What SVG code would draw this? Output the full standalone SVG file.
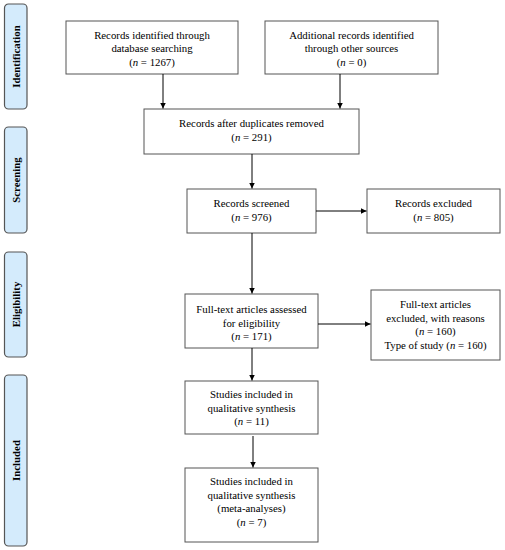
<svg xmlns="http://www.w3.org/2000/svg" width="505" height="550" viewBox="0 0 505 550">
<style>
.box{fill:#fff;stroke:#555;stroke-width:1}
.side{fill:#d4ebfc;stroke:#555;stroke-width:1.2}
.t{font-family:"Liberation Serif","DejaVu Serif",serif;font-size:10.8px;fill:#000;text-anchor:middle}
.s{font-family:"Liberation Serif","DejaVu Serif",serif;font-size:10.8px;font-weight:bold;fill:#000;text-anchor:middle}
.c{stroke:#000;stroke-width:1;fill:none;marker-end:url(#ah)}
</style>
<defs>
<marker id="ah" markerWidth="8" markerHeight="8" refX="6" refY="3" orient="auto" markerUnits="userSpaceOnUse">
<path d="M0,0 L6,3 L0,6 Z" fill="#000"/>
</marker>
</defs>
<g id="phase-identification"><rect class="side" x="4.5" y="4" width="22.5" height="105" rx="4"/><text class="s" transform="translate(19.5,56.5) rotate(-90)">Identification</text></g>
<g id="phase-screening"><rect class="side" x="4.5" y="127" width="22.5" height="106" rx="4"/><text class="s" transform="translate(19.5,180) rotate(-90)">Screening</text></g>
<g id="phase-eligibility"><rect class="side" x="4.5" y="252" width="22.5" height="105" rx="4"/><text class="s" transform="translate(19.5,304.5) rotate(-90)">Eligibility</text></g>
<g id="phase-included"><rect class="side" x="4.5" y="375" width="22.5" height="171" rx="4"/><text class="s" transform="translate(19.5,460.5) rotate(-90)">Included</text></g>

<g id="n1"><rect class="box" x="66" y="21" width="172" height="53"/>
<text class="t" x="152" y="38.5">Records identified through</text>
<text class="t" x="152" y="52">database searching</text>
<text class="t" x="152" y="65.5">(<tspan font-style="italic">n</tspan> = 1267)</text></g>

<g id="n2"><rect class="box" x="265" y="21" width="173" height="53"/>
<text class="t" x="351.5" y="38.5">Additional records identified</text>
<text class="t" x="351.5" y="52">through other sources</text>
<text class="t" x="351.5" y="65.5">(<tspan font-style="italic">n</tspan> = 0)</text></g>

<g id="n3"><rect class="box" x="144" y="109" width="215" height="45"/>
<text class="t" x="251.5" y="127">Records after duplicates removed</text>
<text class="t" x="251.5" y="141">(<tspan font-style="italic">n</tspan> = 291)</text></g>

<g id="n4"><rect class="box" x="187" y="189" width="129" height="44"/>
<text class="t" x="251.5" y="207">Records screened</text>
<text class="t" x="251.5" y="221">(<tspan font-style="italic">n</tspan> = 976)</text></g>

<g id="n5"><rect class="box" x="367" y="189" width="133" height="44"/>
<text class="t" x="433.5" y="207">Records excluded</text>
<text class="t" x="433.5" y="221">(<tspan font-style="italic">n</tspan> = 805)</text></g>

<g id="n6"><rect class="box" x="185" y="294" width="133" height="54"/>
<text class="t" x="251.5" y="313">Full-text articles assessed</text>
<text class="t" x="251.5" y="326.5">for eligibility</text>
<text class="t" x="251.5" y="340">(<tspan font-style="italic">n</tspan> = 171)</text></g>

<g id="n7"><rect class="box" x="371" y="290" width="129" height="70"/>
<text class="t" x="435.5" y="308">Full-text articles</text>
<text class="t" x="435.5" y="321.5">excluded, with reasons</text>
<text class="t" x="435.5" y="335">(<tspan font-style="italic">n</tspan> = 160)</text>
<text class="t" x="435.5" y="348.5">Type of study (<tspan font-style="italic">n</tspan> = 160)</text></g>

<g id="n8"><rect class="box" x="185" y="381" width="133" height="53"/>
<text class="t" x="251.5" y="398">Studies included in</text>
<text class="t" x="251.5" y="411.5">qualitative synthesis</text>
<text class="t" x="251.5" y="425">(<tspan font-style="italic">n</tspan> = 11)</text></g>

<g id="n9"><rect class="box" x="185" y="468" width="133" height="74"/>
<text class="t" x="251.5" y="485">Studies included in</text>
<text class="t" x="251.5" y="498.5">qualitative synthesis</text>
<text class="t" x="251.5" y="512">(meta-analyses)</text>
<text class="t" x="251.5" y="525.5">(<tspan font-style="italic">n</tspan> = 7)</text></g>

<g id="connectors">
<line class="c" x1="163" y1="74" x2="163" y2="108.5"/>
<line class="c" x1="340" y1="74" x2="340" y2="108.5"/>
<line class="c" x1="252" y1="154" x2="252" y2="188.5"/>
<line class="c" x1="316" y1="211" x2="366.5" y2="211"/>
<line class="c" x1="252" y1="233" x2="252" y2="293.5"/>
<line class="c" x1="318" y1="324" x2="370.5" y2="324"/>
<line class="c" x1="252" y1="348" x2="252" y2="380.5"/>
<line class="c" x1="253" y1="436" x2="253" y2="467.5"/>
</g>
</svg>
